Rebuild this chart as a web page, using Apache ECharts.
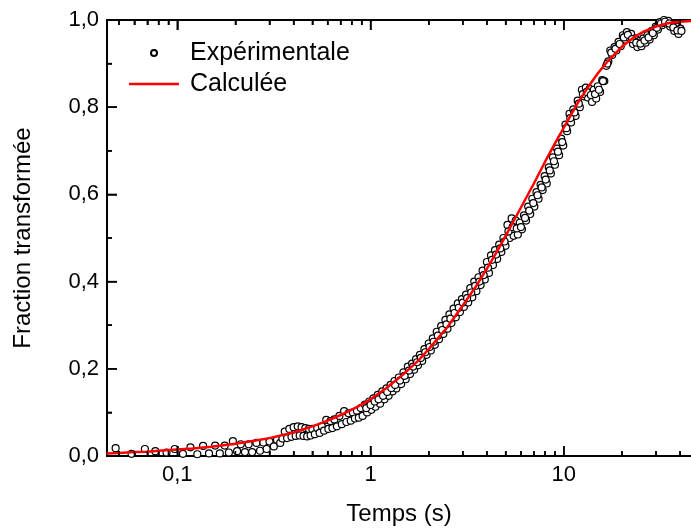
<!DOCTYPE html>
<html><head><meta charset="utf-8">
<script src="https://cdn.jsdelivr.net/npm/echarts@6/dist/echarts.min.js"></script>
<style>html,body{margin:0;padding:0;background:#fff}#c{width:691px;height:531px}</style>
</head><body><div id="c"></div>
<script>
// Experimental points (time in s, transformed fraction): outer rows of the band
const expT = [
 0.048,0.058,0.068,0.077,0.088,0.097,0.107,0.117,0.127,0.136,0.146,0.157,0.166,0.176,0.185,0.194,0.204,0.213,0.224,0.234,0.244,0.257,0.268,0.279,0.290,0.300,0.316,0.328,0.341,
 0.35,0.36,0.37,0.38,0.39,0.40,0.41,0.42,0.43,0.44,0.45,0.46,0.47,0.48,0.49,0.50,
 0.515,0.53,0.545,0.56,0.575,0.59,0.605,0.62,0.635,0.65,
 0.67,0.69,0.71,0.73,0.75,0.77,0.79,0.81,0.83,0.85,0.87,0.89,0.91,
 0.935,0.96,0.985,1.01,1.035,1.06,1.09,1.12,1.15,1.18,1.21,1.24,1.27,1.30,1.33,1.36,
 1.40,1.44,1.48,1.52,1.56,1.60,1.64,1.68,1.72,1.76,1.80,1.85,1.90,1.95,2.00,
 2.05,2.10,2.15,2.20,2.26,2.32,2.38,2.44,2.50,2.56,2.62,2.69,2.76,2.83,2.90,2.97,
 3.04,3.12,3.20,3.28,3.36,3.44,3.53,3.62,3.71,3.80,3.90,4.00,
 4.10,4.20,4.30,4.41,4.52,4.63,4.75,4.87,4.99,5.11,5.24,
 5.37,5.50,5.64,5.78,5.92,6.07,6.22,6.38,6.54,6.70,6.87,7.04,
 7.22,7.40,7.58,7.77,7.96,8.16,8.36,8.57,8.78,9.00,9.22,9.45,9.69,9.93,
 10.2,10.4,10.7,10.9,11.2,11.5,11.8,12.1,12.4,12.7,13.0,13.3,13.6,
 14.0,14.3,14.7,15.0,15.4,15.8,16.2,16.6,17.0,17.4,17.8,
 18.3,18.7,19.2,19.7,20.2,20.7,21.2,21.7,22.3,22.8,23.4,24.0,
 24.6,25.2,25.8,26.5,27.1,27.8,28.5,29.2,29.9,30.7,
 31.4,32.2,33.0,33.8,34.7,35.5,36.4,37.3,38.2,39.2,40.1
];
const expF = [
 0.018,0.005,0.016,0.011,0.008,0.016,0.005,0.020,0.004,0.023,0.006,0.024,0.006,0.024,0.008,0.034,0.011,0.027,0.009,0.027,0.009,0.030,0.012,0.031,0.016,0.033,0.022,0.037,0.030,
 0.040,0.056,0.041,0.062,0.044,0.066,0.046,0.068,0.047,0.066,0.046,0.064,0.045,0.062,0.047,0.062,
 0.050,0.064,0.053,0.068,0.058,0.083,0.062,0.080,0.064,0.084,
 0.068,0.092,0.073,0.103,0.078,0.098,0.081,0.100,0.086,0.104,0.088,0.110,0.092,
 0.118,0.100,0.125,0.106,0.132,0.113,0.140,0.120,0.148,0.130,0.155,0.138,0.163,0.148,0.172,0.155,
 0.180,0.165,0.192,0.176,0.205,0.188,0.212,0.198,0.222,0.208,0.232,0.218,0.245,0.232,0.258,
 0.242,0.270,0.255,0.285,0.268,0.298,0.280,0.312,0.292,0.325,0.305,0.338,0.318,0.350,0.330,0.360,
 0.342,0.370,0.352,0.385,0.364,0.400,0.378,0.410,0.392,0.425,0.405,0.445,
 0.420,0.460,0.438,0.472,0.452,0.485,0.468,0.500,0.482,0.530,0.500,
 0.545,0.505,0.540,0.508,0.535,0.520,0.552,0.540,0.572,0.555,0.590,0.572,
 0.605,0.590,0.622,0.610,0.642,0.625,0.662,0.648,0.685,0.668,0.705,0.690,0.728,0.712,
 0.760,0.745,0.785,0.765,0.795,0.780,0.815,0.800,0.840,0.825,0.845,0.822,0.842,
 0.812,0.840,0.820,0.848,0.835,0.862,0.860,0.895,0.905,0.930,0.920,
 0.938,0.930,0.950,0.940,0.965,0.955,0.972,0.960,0.968,0.945,0.958,0.938,
 0.952,0.940,0.958,0.948,0.965,0.955,0.975,0.965,0.985,0.978,
 0.995,0.988,1.000,0.992,0.998,0.985,0.990,0.975,0.985,0.968,0.980
];
// Experimental points: middle row of the dense band
const expT2 = [
 0.95,1.00,1.05,1.10,1.16,1.22,1.28,1.34,1.42,1.50,1.58,1.66,1.74,1.82,1.92,2.02,2.12,2.23,2.35,2.47,
 2.59,2.72,2.86,3.00,3.16,3.32,3.48,3.66,3.85,4.05,4.25,4.46,4.69,4.93,5.17,5.43,5.71,6.00,6.30,6.62,
 6.95,7.31,7.68,8.06,8.46,8.89,9.33,9.81,10.3,10.8,11.35,11.95,12.55,13.15,13.8,14.5,15.2,15.95,16.8,17.6,
 18.5,19.45,20.45,21.45,22.55,23.7,24.9,26.15,27.45,28.85,30.3,31.8,33.4,35.1,36.9,38.7,40.6
];
const expF2 = [
 0.110,0.117,0.125,0.130,0.138,0.147,0.156,0.163,0.173,0.184,0.196,0.205,0.215,0.225,0.238,0.250,0.262,0.276,0.289,0.302,
 0.315,0.328,0.340,0.352,0.362,0.375,0.390,0.400,0.415,0.432,0.450,0.462,0.476,0.492,0.515,0.525,0.522,0.525,0.546,0.563,
 0.580,0.598,0.616,0.634,0.655,0.676,0.698,0.720,0.752,0.775,0.788,0.808,0.830,0.835,0.828,0.830,0.840,0.860,0.900,0.925,
 0.934,0.945,0.960,0.966,0.956,0.948,0.946,0.953,0.960,0.970,0.982,0.992,0.996,0.992,0.983,0.976,0.975
];
// Calculated curve
const calcT = [0.043,0.05,0.06,0.07,0.08,0.1,0.12,0.15,0.2,0.25,0.3,0.4,0.5,0.6,0.7,0.85,1,1.2,1.5,1.75,2,2.5,3,3.5,4,4.5,5,6,7,8,9,10,11,12,13.5,15,17,20,23,26,30,35,40,46];
const calcF = [0.006,0.007,0.009,0.010,0.012,0.015,0.017,0.021,0.028,0.035,0.041,0.054,0.068,0.081,0.094,0.112,0.130,0.155,0.190,0.217,0.245,0.296,0.345,0.388,0.430,0.468,0.505,0.570,0.625,0.675,0.717,0.753,0.786,0.815,0.849,0.878,0.907,0.939,0.960,0.974,0.985,0.993,0.996,0.998];
// Axis ticks
const xMajorTicks = [0.1, 1, 10];
const xMinorTicks = [0.05,0.06,0.07,0.08,0.09,0.2,0.3,0.4,0.5,0.6,0.7,0.8,0.9,2,3,4,5,6,7,8,9,20,30,40];
const yMajorTicks = [0.2, 0.4, 0.6, 0.8];
const yMinorTicks = [0.1, 0.3, 0.5, 0.7, 0.9];
const xMin = 0.0433, xMax = 45.5;
const yMin = 0, yMax = 1, yStep = 0.2;

const FONT = "'Liberation Sans', Arial, sans-serif";
const comma = v => String(v).replace('.', ',');
const axisCol = '#000';

function xAx(pos, major, showLine, extra) {
  return Object.assign({
    type: 'log', logBase: 10, min: xMin, max: xMax, position: pos,
    splitLine: {show: false},
    axisLine: {show: showLine, lineStyle: {color: axisCol, width: 2}},
    axisTick: {show: true, inside: true, length: major ? 10 : 5,
      customValues: major ? xMajorTicks : xMinorTicks,
      lineStyle: {color: axisCol, width: 1.5}},
    axisLabel: {show: false}
  }, extra || {});
}

// Tick marks drawn as small bars placed at tick values through the axes' scales
function tickSeries(points, size, offset) {
  return {
    type: 'scatter', xAxisIndex: 0, yAxisIndex: 0, silent: true, clip: false,
    data: points, symbol: 'rect', symbolSize: size, symbolOffset: offset,
    itemStyle: {color: axisCol, borderWidth: 0, opacity: 1}, z: 5
  };
}

const chart = echarts.init(document.getElementById('c'), null, {renderer: 'canvas'});
chart.setOption({
  animation: false,
  backgroundColor: '#fff',
  textStyle: {fontFamily: FONT},
  grid: {left: 107, top: 20, right: -10, bottom: 73, containLabel: false},
  legend: {
    orient: 'vertical', left: 124, top: 34,
    itemWidth: 58, itemHeight: 6, itemGap: 3,
    textStyle: {fontFamily: FONT, fontSize: 25, color: '#000', lineHeight: 28, padding: [0, 0, 0, 2]},
    data: [
      {name: 'Expérimentale'},
      {name: 'Calculée', icon: 'path://M0,0M0,12M0,3.5H100V8.5H0Z'}
    ],
    selectedMode: false
  },
  xAxis: [
    xAx('bottom', true, true, {
      axisLabel: {show: true, customValues: xMajorTicks, formatter: comma,
        fontSize: 22, color: '#000', fontFamily: FONT, margin: 8},
      name: 'Temps (s)', nameLocation: 'middle', nameGap: 46,
      nameTextStyle: {fontSize: 24, color: '#000', fontFamily: FONT}
    }),
    xAx('bottom', false, false),
    xAx('top', true, true),
    xAx('top', false, false)
  ],
  yAxis: {
    type: 'value', min: yMin, max: yMax, interval: yStep, position: 'left',
    splitLine: {show: false},
    axisLine: {show: true, lineStyle: {color: axisCol, width: 2}},
    axisTick: {show: true, inside: true, length: 10, lineStyle: {color: axisCol, width: 1.5}},
    minorTick: {show: true, splitNumber: 2, length: 5, lineStyle: {color: axisCol, width: 1.5}},
    axisLabel: {formatter: v => v.toFixed(1).replace('.', ','), fontSize: 22, color: '#000', fontFamily: FONT, margin: 8},
    name: 'Fraction transformée', nameLocation: 'middle', nameGap: 72,
    nameTextStyle: {fontSize: 24, color: '#000', fontFamily: FONT}
  },
  series: [
    {
      name: 'Expérimentale', type: 'scatter', xAxisIndex: 0, yAxisIndex: 0,
      data: expT.map((t, i) => [t, expF[i]]).concat(expT2.map((t, i) => [t, expF2[i]])),
      symbol: 'circle', symbolSize: 7,
      itemStyle: {color: '#fff', borderColor: '#000', borderWidth: 1.2, opacity: 1}
    },
    {
      name: 'Calculée', type: 'line', xAxisIndex: 0, yAxisIndex: 0,
      data: calcT.map((t, i) => [t, calcF[i]]),
      symbol: 'none', color: '#ff0000',
      lineStyle: {color: '#ff0000', width: 2.5}
    },
    tickSeries(xMajorTicks.map(t => [t, yMin]), [1.5, 10], [0, -5]),
    tickSeries(xMinorTicks.map(t => [t, yMin]), [1.5, 5], [0, -2.5]),
    tickSeries(xMajorTicks.map(t => [t, yMax]), [1.5, 10], [0, 5]),
    tickSeries(xMinorTicks.map(t => [t, yMax]), [1.5, 5], [0, 2.5]),
    tickSeries(yMajorTicks.map(v => [xMin, v]), [10, 1.5], [5, 0]),
    tickSeries(yMinorTicks.map(v => [xMin, v]), [5, 1.5], [2.5, 0])
  ]
});
</script>
</body></html>
